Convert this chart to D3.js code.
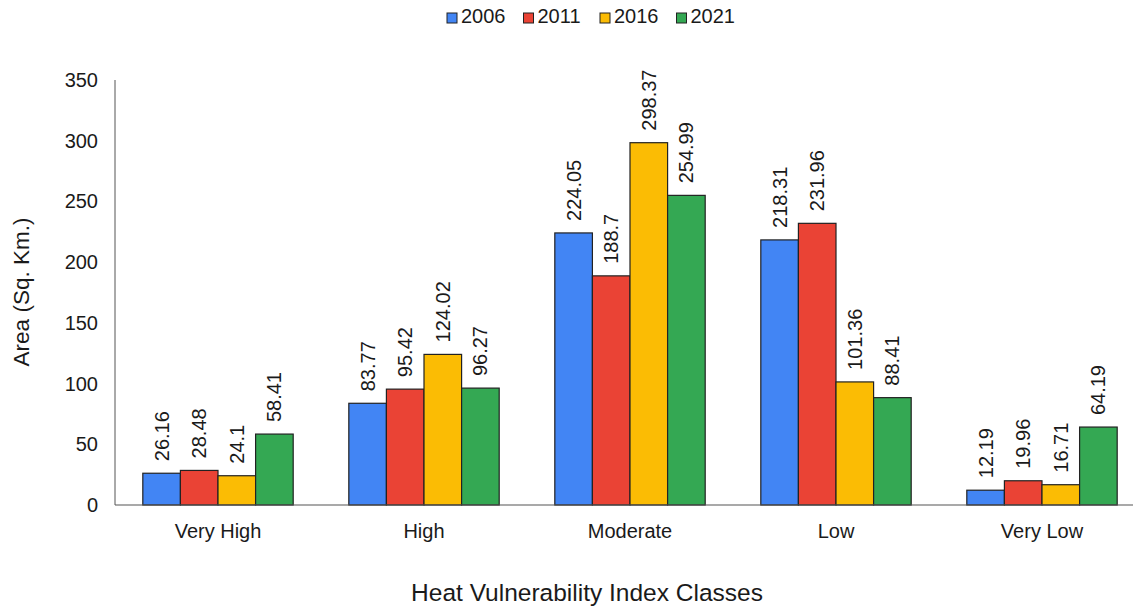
<!DOCTYPE html>
<html>
<head>
<meta charset="utf-8">
<script src="https://cdn.jsdelivr.net/npm/d3@7"></script>
<style>
  html, body { margin: 0; padding: 0; background: #fff; }
  svg { display: block; font-family: Arial, "Liberation Sans", sans-serif; }
</style>
</head>
<body>
<svg id="chart" width="1133" height="613"></svg>
<script>
// Heat vulnerability index classes and area per year (sq. km)
const classes = ["Very High", "High", "Moderate", "Low", "Very Low"];
const years = ["2006", "2011", "2016", "2021"];
const area2006 = [26.16, 83.77, 224.05, 218.31, 12.19];
const area2011 = [28.48, 95.42, 188.7, 231.96, 19.96];
const area2016 = [24.1, 124.02, 298.37, 101.36, 16.71];
const area2021 = [58.41, 96.27, 254.99, 88.41, 64.19];
const yTicks = [0, 50, 100, 150, 200, 250, 300, 350];
const colors = ["#4285F4", "#EA4335", "#FBBC04", "#34A853"];

const seriesValues = [area2006, area2011, area2016, area2021];
const rows = classes.map((c, i) => ({
  cls: c,
  values: years.map((y, j) => ({ year: y, value: seriesValues[j][i], idx: j }))
}));

const svg = d3.select("#chart");
const plot = { left: 115, right: 1145, top: 80, bottom: 505 };
const textColor = "#1a1a1a";

const x0 = d3.scaleBand().domain(classes).range([plot.left, plot.right])
  .paddingInner(0.27).paddingOuter(0.135);
const x1 = d3.scaleBand().domain(years).range([0, x0.bandwidth()]);
const y = d3.scaleLinear().domain([0, 350]).range([plot.bottom, plot.top]);
const color = d3.scaleOrdinal().domain(years).range(colors);

// Y-axis tick labels (no tick marks)
svg.append("g").selectAll("text").data(yTicks).join("text")
  .attr("x", 98).attr("y", d => y(d)).attr("dy", "0.35em")
  .attr("text-anchor", "end").attr("font-size", 20).attr("fill", textColor)
  .text(d => d);

// Bars
const groups = svg.append("g").selectAll("g").data(rows).join("g")
  .attr("transform", d => `translate(${x0(d.cls)},0)`);

groups.selectAll("rect").data(d => d.values).join("rect")
  .attr("x", d => x1(d.year))
  .attr("y", d => y(d.value))
  .attr("width", x1.bandwidth())
  .attr("height", d => y(0) - y(d.value))
  .attr("fill", d => color(d.year))
  .attr("stroke", "#222").attr("stroke-width", 1.2);

// Value labels, rotated above each bar
groups.selectAll("text").data(d => d.values).join("text")
  .attr("transform", d => `translate(${x1(d.year) + x1.bandwidth() / 2},${y(d.value) - 12}) rotate(-90)`)
  .attr("dy", "0.35em")
  .attr("font-size", 20).attr("fill", textColor)
  .text(d => d.value);

// Axis lines
svg.append("line").attr("x1", plot.left).attr("x2", plot.left)
  .attr("y1", plot.top).attr("y2", plot.bottom)
  .attr("stroke", "#555").attr("stroke-width", 1);
svg.append("line").attr("x1", plot.left).attr("x2", 1133)
  .attr("y1", plot.bottom).attr("y2", plot.bottom)
  .attr("stroke", "#555").attr("stroke-width", 1.2);

// Category labels
svg.append("g").selectAll("text").data(classes).join("text")
  .attr("x", d => x0(d) + x0.bandwidth() / 2).attr("y", 538)
  .attr("text-anchor", "middle").attr("font-size", 20).attr("fill", textColor)
  .text(d => d);

// Axis titles
svg.append("text")
  .attr("transform", "translate(29,292) rotate(-90)")
  .attr("text-anchor", "middle").attr("font-size", 22.5).attr("fill", textColor)
  .text("Area (Sq. Km.)");
svg.append("text")
  .attr("x", 587).attr("y", 601)
  .attr("text-anchor", "middle").attr("font-size", 24.5).attr("fill", textColor)
  .text("Heat Vulnerability Index Classes");

// Legend
const legend = svg.append("g").selectAll("g").data(years).join("g")
  .attr("transform", (d, i) => `translate(${447 + i * 76.5},13)`);
legend.append("rect").attr("width", 10).attr("height", 10)
  .attr("fill", d => color(d)).attr("stroke", "#222").attr("stroke-width", 1);
legend.append("text").attr("x", 14).attr("y", 10)
  .attr("font-size", 20).attr("fill", textColor).text(d => d);
</script>
</body>
</html>
